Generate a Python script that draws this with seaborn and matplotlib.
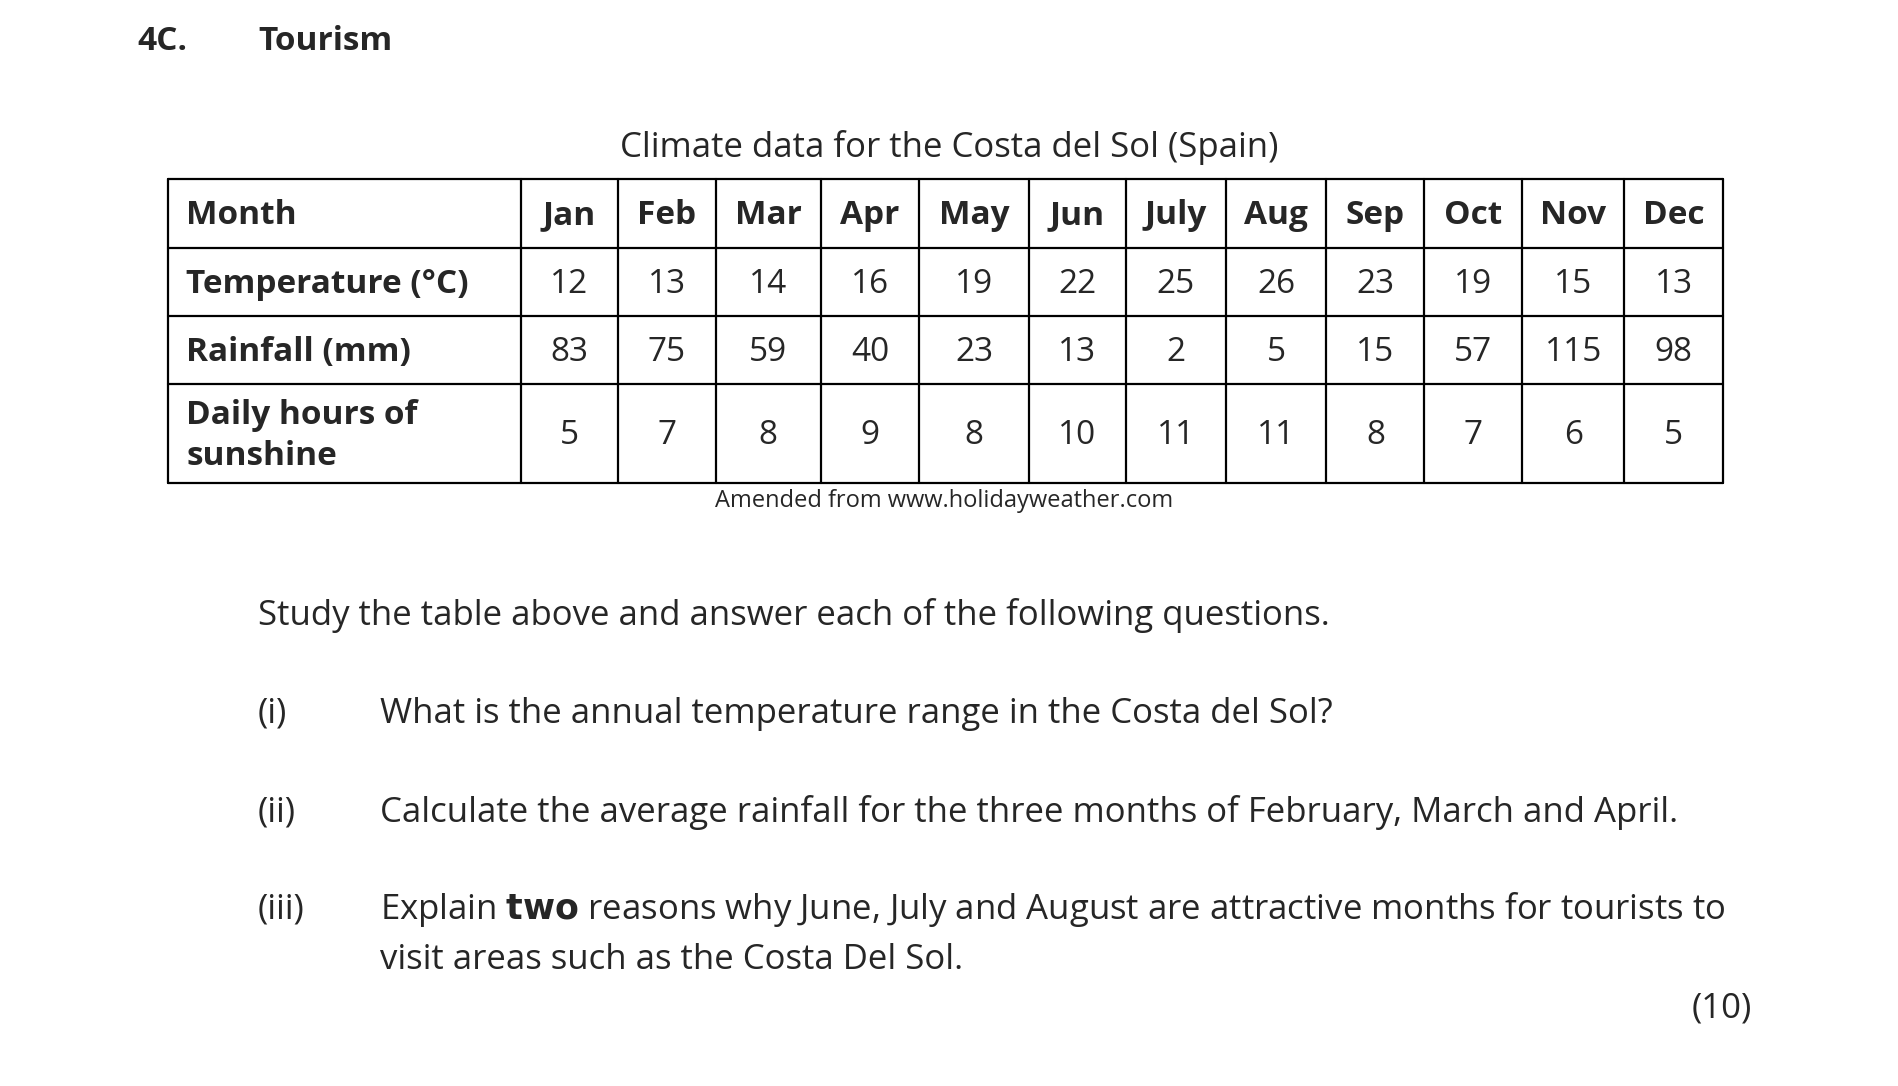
import matplotlib
matplotlib.use("Agg")
import matplotlib.pyplot as plt
import seaborn as sns

sns.set_style("white")
FONT = "Open Sans"

months = ["Jan","Feb","Mar","Apr","May","Jun","July","Aug","Sep","Oct","Nov","Dec"]
temperature = [12,13,14,16,19,22,25,26,23,19,15,13]
rainfall = [83,75,59,40,23,13,2,5,15,57,115,98]
sunshine = [5,7,8,9,8,10,11,11,8,7,6,5]
row_labels = ["Month","Temperature (°C)","Rainfall (mm)","Daily hours of\nsunshine"]

W, H = 1560, 893
fig = plt.figure(figsize=(18.98, 10.86), dpi=100)
ax = fig.add_axes([0, 0, 1, 1])
ax.set_xlim(0, W); ax.set_ylim(H, 0); ax.axis("off")

xs = [138, 430, 510, 591, 678, 759, 850, 930, 1013, 1096, 1177, 1258, 1342, 1424]
xs = [138 + (x - 138) * 0.994 for x in xs]
ys = [147, 204, 260, 316, 397]
for x in xs:
    ax.plot([x, x], [ys[0], ys[-1]], color="black", lw=1.6)
for y in ys:
    ax.plot([xs[0], xs[-1]], [y, y], color="black", lw=1.6)

fs = 24
rows = [months, temperature, rainfall, sunshine]
for r, (lab, vals) in enumerate(zip(row_labels, rows)):
    yc = (ys[r] + ys[r+1]) / 2
    ax.text(153, yc + 2, lab, ha="left", va="center", fontsize=fs, fontweight="bold",
            family=FONT, linespacing=1.35)
    for c, v in enumerate(vals):
        xc = (xs[c+1] + xs[c+2]) / 2
        ax.text(xc, yc + 2, str(v), ha="center", va="center", fontsize=fs,
                fontweight="bold" if r == 0 else "normal", family=FONT)

ax.text(113, 34, "4C.", fontsize=24, fontweight="bold", family=FONT, va="center")
ax.text(212, 34, "Tourism", fontsize=24, fontweight="bold", family=FONT, va="center")
ax.text(780, 121, "Climate data for the Costa del Sol (Spain)", fontsize=25, family=FONT,
        ha="center", va="center")
ax.text(776, 412, "Amended from www.holidayweather.com", fontsize=17, family=FONT,
        ha="center", va="center")

qfs = 25
ax.text(212, 506, "Study the table above and answer each of the following questions.",
        fontsize=qfs, family=FONT, va="center")
ax.text(212, 587, "(i)", fontsize=qfs, family=FONT, va="center")
ax.text(312, 587, "What is the annual temperature range in the Costa del Sol?",
        fontsize=qfs, family=FONT, va="center")
ax.text(212, 668, "(ii)", fontsize=qfs, family=FONT, va="center")
ax.text(312, 668, "Calculate the average rainfall for the three months of February, March and April.",
        fontsize=qfs, family=FONT, va="center")
ax.text(212, 748, "(iii)", fontsize=qfs, family=FONT, va="center")
ax.text(312, 748, "Explain $\\bf{two}$ reasons why June, July and August are attractive months for tourists to",
        fontsize=qfs, family=FONT, va="center")
ax.text(312, 789, "visit areas such as the Costa Del Sol.", fontsize=qfs, family=FONT, va="center")
ax.text(1440, 829, "(10)", fontsize=qfs, family=FONT, va="center", ha="right")

fig.savefig("out.png", dpi=100, facecolor="white")
